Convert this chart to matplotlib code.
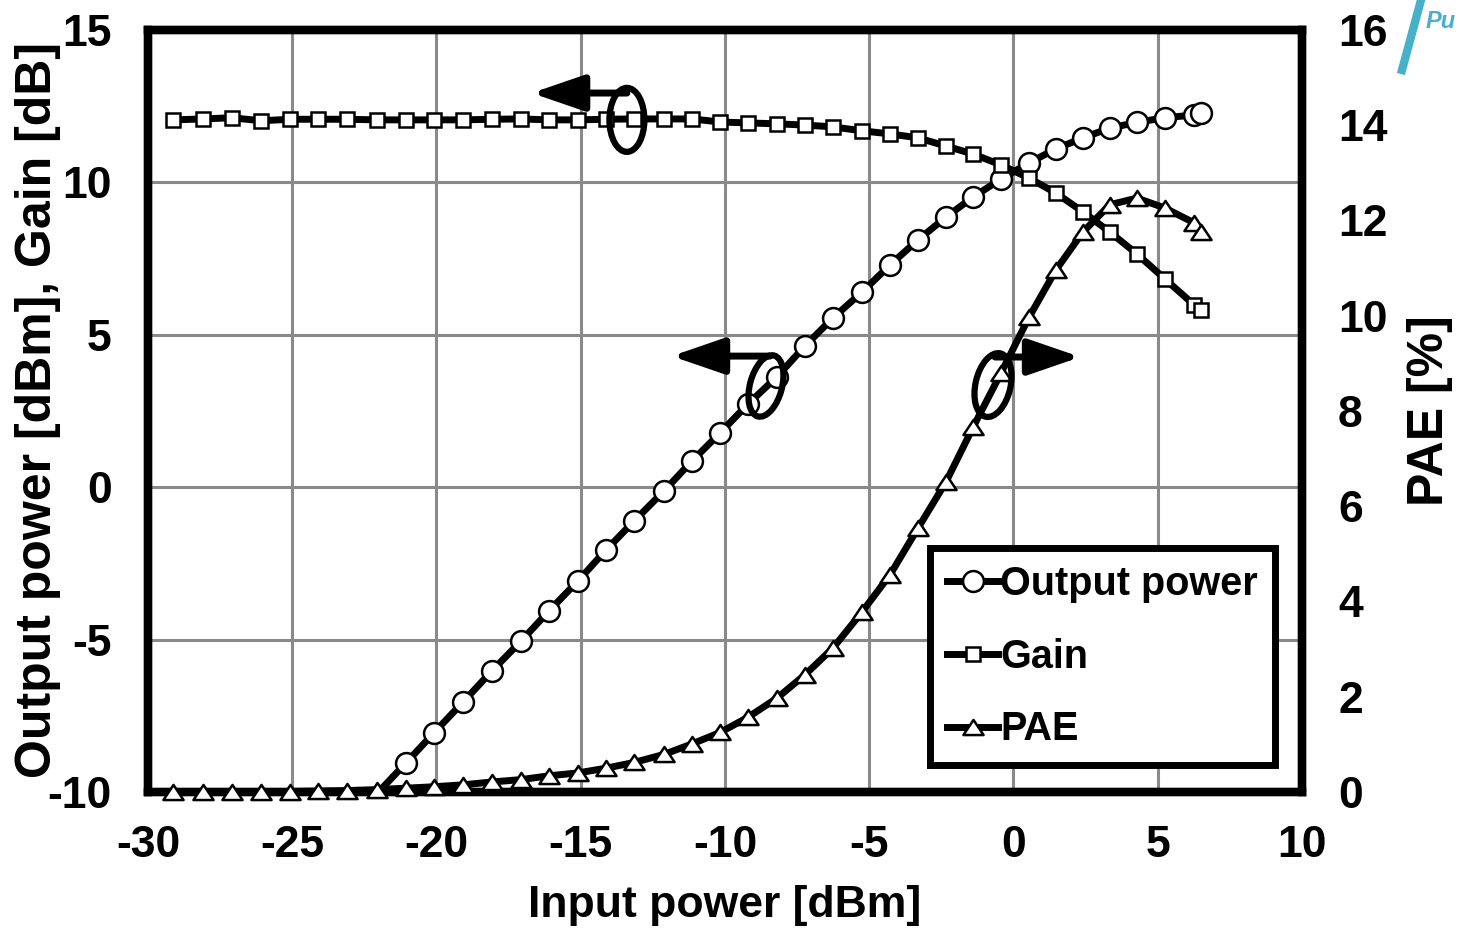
import numpy as np
import matplotlib
matplotlib.use('Agg')
import matplotlib.pyplot as plt
import matplotlib.transforms as mtransforms
from matplotlib.path import Path
from matplotlib.patches import Ellipse
from matplotlib.lines import Line2D

plt.rcParams['font.family'] = ['Liberation Sans', 'DejaVu Sans']
plt.rcParams['font.weight'] = 'bold'
plt.rcParams['axes.unicode_minus'] = False

# measured sweep: input power [dBm]
pin = [-29.13, -28.09, -27.09, -26.08, -25.08, -24.11, -23.10, -22.06, -21.06, -20.09,
       -19.08, -18.08, -17.07, -16.10, -15.10, -14.12, -13.15, -12.11, -11.14, -10.17,
       -9.20, -8.20, -7.23, -6.26, -5.25, -4.28, -3.31, -2.34, -1.40, -0.43,
       0.54, 1.47, 2.41, 3.34, 4.28, 5.25, 6.26, 6.50]
# output power [dBm]
pout = [-17.08, -16.01, -14.97, -14.06, -13.01, -12.04, -11.03, -10.05, -9.05, -8.06,
        -7.05, -6.03, -5.05, -4.06, -3.08, -2.06, -1.11, -0.12, 0.86, 1.78,
        2.73, 3.62, 4.63, 5.55, 6.40, 7.29, 8.11, 8.86, 9.52, 10.11,
        10.64, 11.10, 11.46, 11.78, 11.97, 12.12, 12.21, 12.26]
# gain [dB]
gain = [12.05, 12.08, 12.12, 12.02, 12.07, 12.07, 12.07, 12.05, 12.05, 12.05,
        12.05, 12.07, 12.08, 12.05, 12.05, 12.07, 12.08, 12.08, 12.08, 11.98,
        11.95, 11.92, 11.88, 11.82, 11.69, 11.59, 11.46, 11.19, 10.93, 10.57,
        10.14, 9.65, 9.03, 8.37, 7.65, 6.83, 5.98, 5.81]
# power added efficiency [%]
pae = [0.0, 0.0, 0.0, 0.0, 0.01, 0.02, 0.03, 0.05, 0.08, 0.11,
       0.15, 0.21, 0.26, 0.34, 0.40, 0.50, 0.62, 0.79, 1.01, 1.25,
       1.57, 1.97, 2.46, 3.02, 3.78, 4.56, 5.54, 6.51, 7.66, 8.80,
       9.97, 10.96, 11.76, 12.33, 12.47, 12.26, 11.95, 11.76]

xticks = np.arange(-30, 11, 5)
yticks_left = np.arange(-10, 16, 5)
yticks_right = np.arange(0, 17, 2)

fig = plt.figure(figsize=(14.58, 9.30), dpi=100)
ax = fig.add_axes([0.1015, 0.1484, 0.7915, 0.8194])
ax2 = ax.twinx()

# flat triangle, like the spreadsheet marker
tri = Path([(0, 0.75), (-1, -0.75), (1, -0.75), (0, 0.75)],
           [Path.MOVETO, Path.LINETO, Path.LINETO, Path.CLOSEPOLY])

lw = 5
mk = dict(markerfacecolor='white', markeredgecolor='black', markeredgewidth=1.8)

shown = [i for i, v in enumerate(pout) if v >= -10]
l1, = ax.plot(pin, pout, '-', color='k', lw=lw, marker='o', ms=15,
              markevery=shown, zorder=3, **mk)
l2, = ax.plot(pin, gain, '-', color='k', lw=lw, marker='s', ms=10.5,
              clip_on=False, zorder=3, **mk)
l3, = ax2.plot(pin, pae, '-', color='k', lw=lw, marker=tri, ms=14.5,
               clip_on=False, zorder=3, **mk)

ax.set_xlim(-30, 10)
ax.set_ylim(-10, 15)
ax2.set_ylim(0, 16)
ax.set_xticks(xticks)
ax.set_yticks(yticks_left)
ax2.set_yticks(yticks_right)
ax.grid(True, color='#8a8a8a', lw=2.2)
ax.set_axisbelow(True)

ax.tick_params(axis='x', length=0, labelsize=32, pad=24)
ax.tick_params(axis='y', length=0, labelsize=32, pad=26)
ax2.tick_params(axis='y', length=0, labelsize=32, pad=26)
for a in (ax, ax2):
    for sp in a.spines.values():
        sp.set_linewidth(6)
        sp.set_color('k')

fig.text(725 / 1458, 1 - 905 / 930, 'Input power [dBm]', ha='center', va='center', fontsize=32)
fig.text(38 / 1458, 1 - 410 / 930, 'Output power [dBm], Gain [dB]', rotation=90,
         ha='center', va='center', fontsize=36)
fig.text(1430 / 1458, 1 - 411 / 930, 'PAE [%]', rotation=90,
         ha='center', va='center', fontsize=36)

# axis pointers: ellipse around the curve, arrow towards its axis
def pointer(cx, cy, w, h, angle, x0, x1, y):
    tr = fig.dpi_scale_trans + mtransforms.ScaledTranslation(cx, cy, ax.transData)
    ax2.add_patch(Ellipse((0, 0), w, h, angle=angle, transform=tr, fill=False,
                          ec='k', lw=4.5, clip_on=False, zorder=5))
    ax2.annotate('', xy=(x1, y), xycoords=ax.transData, xytext=(x0, y), textcoords=ax.transData,
                 arrowprops=dict(arrowstyle='-|>,head_length=1.6,head_width=0.55',
                                 mutation_scale=20, lw=5, color='k', shrinkA=0, shrinkB=0),
                 zorder=5)

pointer(-13.40, 12.05, 0.35, 0.64, 0, -13.40, -16.70, 12.93)
pointer(-8.58, 3.32, 0.32, 0.63, -15, -8.44, -11.85, 4.30)
pointer(-0.71, 3.35, 0.35, 0.65, -13, -0.64, 2.32, 4.27)

leg = ax2.legend([l1, l2, l3], ['Output power', 'Gain', 'PAE'], loc='upper left',
                 bbox_to_anchor=(0.678, 0.320), borderaxespad=0, fontsize=28.5,
                 handlelength=1.3, handletextpad=0.05,
                 labelspacing=0.88, borderpad=0.42,
                 fancybox=False, framealpha=1, edgecolor='k')
leg.get_frame().set_linewidth(5)
leg.set_zorder(10)

teal = '#46b1c9'
fig.add_artist(Line2D([1402 / 1458, 1421 / 1458], [1 - 70 / 930, 1.0],
                      transform=fig.transFigure, color=teal, lw=6))
fig.text(1426 / 1458, 1 - 22 / 930, 'Pu', color=teal, style='italic', fontsize=17, va='center')

fig.savefig('out.png', dpi=100)
